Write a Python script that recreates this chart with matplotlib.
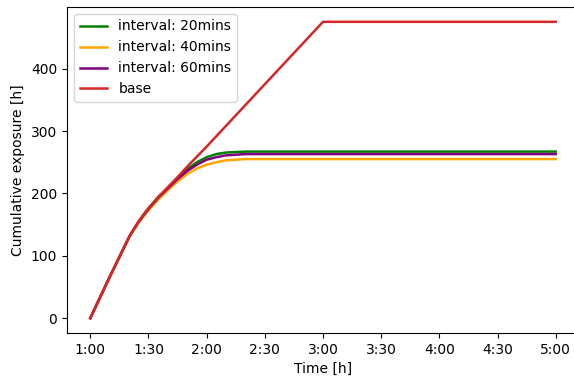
import matplotlib
matplotlib.use("Agg")
import matplotlib.pyplot as plt
from matplotlib.ticker import FuncFormatter, MultipleLocator

# minutes after 1:00
base_t = [0, 5, 10, 15, 20, 22.5, 25, 27.5, 30, 35, 40, 45, 50, 55, 60, 120, 240]
base_v = [0, 33, 66, 98, 130, 143, 155, 166, 176, 194, 210, 226, 243, 259, 275, 475, 475]

iv_t = [0, 5, 10, 15, 20, 22.5, 25, 27.5, 30, 35, 40, 45, 50, 55, 60, 65, 70, 80, 90, 240]
iv20 = [0, 33, 66, 98, 130, 143, 155, 166, 176, 194, 209, 225, 239, 250, 258, 263, 265.5, 267, 267, 267]
iv40 = [0, 33, 66, 98, 129, 142, 153, 163, 173, 190, 205, 219, 231, 240, 246, 250, 253, 255, 255, 255]
iv60 = [0, 33, 66, 98, 130, 143, 155, 165, 175, 193, 208, 223, 236, 246, 254, 258, 261, 263, 263, 263]

def to_hours(ts):
    return [1 + t / 60 for t in ts]

fig = plt.figure(figsize=(5.74, 3.77), dpi=100)
ax = fig.add_axes([67 / 574, 44 / 377, 512 / 574, 326 / 377])

ax.plot(to_hours(iv_t), iv20, color="green", lw=1.8, label="interval: 20mins")
ax.plot(to_hours(iv_t), iv40, color="orange", lw=1.8, label="interval: 40mins")
ax.plot(to_hours(iv_t), iv60, color="purple", lw=1.8, label="interval: 60mins")
ax.plot(to_hours(base_t), base_v, color="tab:red", lw=1.8, label="base")

def hm(x, pos):
    h = int(x)
    m = int(round((x - h) * 60))
    return "%d:%02d" % (h, m)

ax.xaxis.set_major_locator(MultipleLocator(0.5))
ax.xaxis.set_major_formatter(FuncFormatter(hm))
ax.set_xlabel("Time [h]")
ax.set_ylabel("Cumulative exposure [h]")
ax.legend(loc="upper left")

fig.savefig("out.png")
